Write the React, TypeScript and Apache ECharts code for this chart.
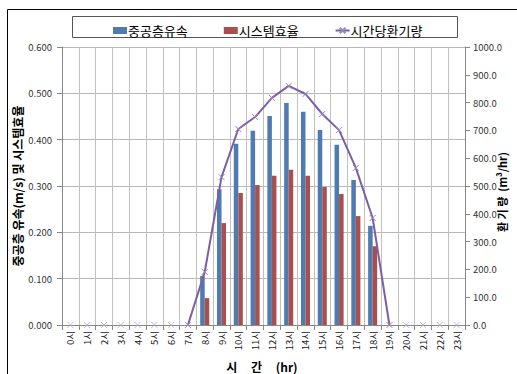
import React, { useEffect, useRef } from "react";
import * as echarts from "echarts";

const hours = ["0시","1시","2시","3시","4시","5시","6시","7시","8시","9시","10시","11시","12시","13시","14시","15시","16시","17시","18시","19시","20시","21시","22시","23시"];
const airVelocity = [null,null,null,null,null,null,null,null,0.106,0.293,0.391,0.419,0.451,0.479,0.460,0.421,0.389,0.313,0.214,null,null,null,null,null];
const systemEfficiency = [null,null,null,null,null,null,null,null,0.058,0.220,0.285,0.302,0.322,0.335,0.322,0.298,0.283,0.235,0.170,null,null,null,null,null];
const ventilation = [0,0,0,0,0,0,0,0,191,532,705,748,817,860,831,759,701,565,385,0,0,0,0,0];
const leftTicks = [0, 0.1, 0.2, 0.3, 0.4, 0.5, 0.6];
const rightTicks = [0, 100, 200, 300, 400, 500, 600, 700, 800, 900, 1000];

const FONT = "'Noto Sans CJK KR', 'Noto Sans', sans-serif";
const CROSS = "path://M0,0L10,10M10,0L0,10";

export default function App() {
  const ref = useRef<HTMLDivElement>(null);
  useEffect(() => {
    if (!ref.current) return;
    const chart = echarts.init(ref.current, undefined, { renderer: "svg" });
    const n = ventilation.length;
    const lineData = ventilation.map((v, i) => {
      const prev = i > 0 ? ventilation[i - 1] : 0;
      const next = i < n - 1 ? ventilation[i + 1] : 0;
      return v !== 0 || prev !== 0 || next !== 0 ? v : null;
    });
    const zeroData = ventilation.map((v, i) => (lineData[i] === null ? v : null));
    chart.setOption({
      animation: false,
      textStyle: { fontFamily: FONT },
      grid: { left: 62, right: 52, top: 47, bottom: 49 },
      legend: {
        top: 19,
        left: 108,
        itemGap: 36,
        itemWidth: 14,
        itemHeight: 7,
        textStyle: { fontSize: 13, color: "#000", fontFamily: FONT, padding: [0, 0, 0, -4] },
        data: [
          { name: "중공층유속", icon: "rect" },
          { name: "시스템효율", icon: "rect" },
          { name: "시간당환기량" },
        ],
      },
      graphic: [
        { type: "rect", shape: { x: 7.5, y: 9.5, width: 530, height: 400 }, style: { fill: "none", stroke: "#000", lineWidth: 1 }, silent: true },
        { type: "rect", shape: { x: 72.5, y: 16.5, width: 385, height: 21 }, style: { fill: "none", stroke: "#555", lineWidth: 1 }, silent: true },
        { type: "text", x: 17, y: 186, rotation: Math.PI / 2, style: { text: "중공층 유속(m/s) 및 시스템효율", font: `bold 12px ${FONT}`, fill: "#000", align: "center", verticalAlign: "middle" } },
        { type: "text", x: 502, y: 192, rotation: Math.PI / 2, style: { text: "환 기 량  (m³/hr)", font: `bold 11px ${FONT}`, fill: "#000", align: "center", verticalAlign: "middle" } },
        { type: "text", x: 262, y: 366, style: { text: "시     간     (hr)", font: `bold 12px ${FONT}`, fill: "#000", align: "center", verticalAlign: "middle" } },
      ],
      xAxis: {
        type: "category",
        data: hours,
        boundaryGap: true,
        axisLine: { lineStyle: { color: "#888" } },
        axisTick: { show: true, interval: 0, length: 5, lineStyle: { color: "#888" } },
        axisLabel: { interval: 0, rotate: 90, fontSize: 9.5, color: "#222", margin: 6 },
        splitLine: { show: true, interval: 0, lineStyle: { color: "#c0c0c0" } },
      },
      yAxis: [
        {
          type: "value",
          min: leftTicks[0],
          max: leftTicks[leftTicks.length - 1],
          interval: 0.1,
          axisLine: { show: true, lineStyle: { color: "#888" } },
          axisTick: { show: true, length: 5, lineStyle: { color: "#888" } },
          axisLabel: { fontSize: 9.5, color: "#333", margin: 10, formatter: (v: number) => v.toFixed(3) },
          splitLine: { show: true, lineStyle: { color: "#b8b8b8" } },
        },
        {
          type: "value",
          min: rightTicks[0],
          max: rightTicks[rightTicks.length - 1],
          interval: 100,
          axisLine: { show: true, lineStyle: { color: "#888" } },
          axisTick: { show: true, length: 5, lineStyle: { color: "#888" } },
          axisLabel: { fontSize: 9.5, color: "#333", margin: 8, formatter: (v: number) => v.toFixed(1) },
          splitLine: { show: false },
        },
      ],
      series: [
        {
          name: "중공층유속",
          type: "bar",
          yAxisIndex: 0,
          data: airVelocity,
          barGap: "0%",
          barCategoryGap: "46%",
          itemStyle: { color: "#4F7BB0" },
        },
        {
          name: "시스템효율",
          type: "bar",
          yAxisIndex: 0,
          data: systemEfficiency,
          itemStyle: { color: "#A8504D" },
        },
        {
          name: "시간당환기량",
          type: "line",
          yAxisIndex: 1,
          data: lineData,
          connectNulls: false,
          symbol: CROSS,
          symbolSize: 6,
          showSymbol: true,
          lineStyle: { color: "#7B5FA6", width: 2 },
          itemStyle: { color: "#9A86BE", borderColor: "#9A86BE", borderWidth: 1 },
          z: 5,
        },
        {
          name: "zero",
          type: "scatter",
          yAxisIndex: 1,
          data: zeroData,
          symbol: CROSS,
          symbolSize: 6,
          itemStyle: { color: "#B5A8CF", borderColor: "#B5A8CF", borderWidth: 1 },
          z: 5,
        },
      ],
    });
    return () => chart.dispose();
  }, []);
  return <div ref={ref} style={{ position: "fixed", left: 0, top: 0, width: 517, height: 374, background: "#fff" }} />;
}
